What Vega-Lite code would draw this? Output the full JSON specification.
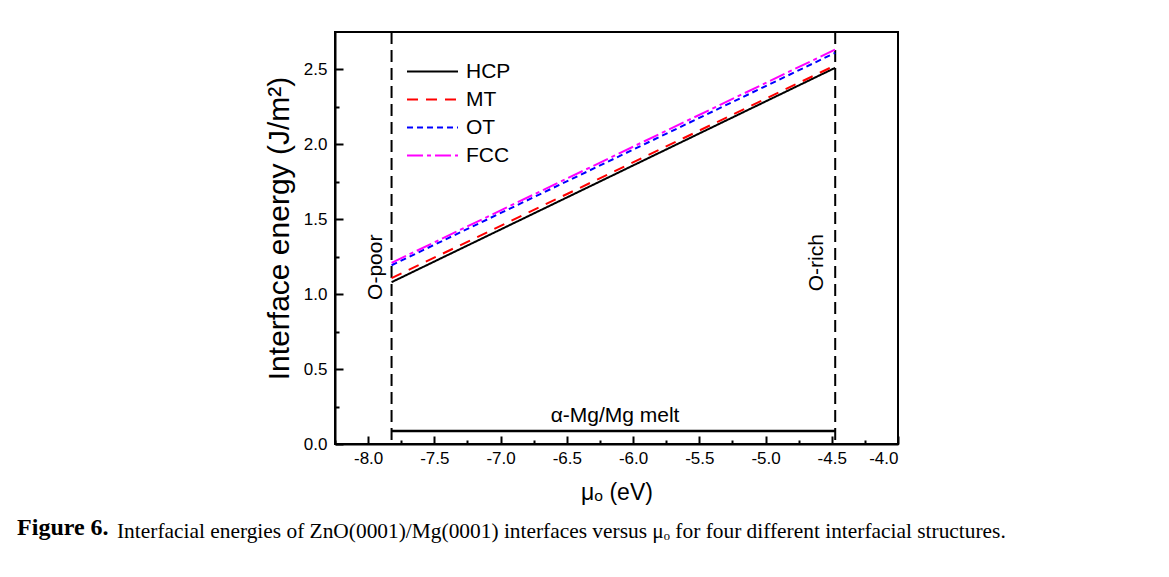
{
  "$schema": "https://vega.github.io/schema/vega-lite/v6.json",
  "width": 563,
  "height": 412,
  "autosize": {"type": "none"},
  "padding": {"left": 335, "top": 32, "right": 271, "bottom": 133},
  "background": "white",
  "title": {
    "text": "Interfacial energies of ZnO(0001)/Mg(0001) interfaces versus μₒ for four different interfacial structures.",
    "orient": "bottom",
    "anchor": "start",
    "frame": "group",
    "dx": -218,
    "offset": -19,
    "font": "Liberation Serif",
    "fontSize": 21.4,
    "fontWeight": "normal",
    "color": "black"
  },
  "config": {
    "font": "Liberation Sans",
    "view": {"stroke": "black", "strokeWidth": 2},
    "axis": {
      "labelFont": "Liberation Sans",
      "titleFont": "Liberation Sans",
      "labelFontSize": 17,
      "titleFontSize": 23,
      "titleFontWeight": "normal",
      "labelColor": "black",
      "titleColor": "black",
      "domainColor": "black",
      "domainWidth": 2,
      "tickColor": "black",
      "tickWidth": 2,
      "grid": false
    }
  },
  "datasets": {
    "series": [
      {"s": "HCP", "x": -7.823, "y": 1.08},
      {"s": "HCP", "x": -4.474, "y": 2.511},
      {"s": "MT", "x": -7.823, "y": 1.107},
      {"s": "MT", "x": -4.474, "y": 2.527},
      {"s": "OT", "x": -7.823, "y": 1.193},
      {"s": "OT", "x": -4.474, "y": 2.611},
      {"s": "FCC", "x": -7.823, "y": 1.209},
      {"s": "FCC", "x": -4.474, "y": 2.633}
    ],
    "bounds": [{"v": -7.823}, {"v": -4.474}],
    "melt": [{"x": -7.823, "y": 0.087}, {"x": -4.474, "y": 0.087}],
    "vlabels": [
      {"label": "O-poor", "x": -7.94, "y": 1.18},
      {"label": "O-rich", "x": -4.61, "y": 1.21}
    ],
    "hlabels": [{"label": "α-Mg/Mg melt", "x": -6.136, "y": 0.19}],
    "fig": [{"label": "Figure 6.", "x": -10.65, "y": -0.56}]
  },
  "resolve": {"axis": {"x": "independent", "y": "independent"}},
  "layer": [
    {
      "data": {"name": "melt"},
      "mark": {"type": "line", "color": "black", "strokeWidth": 2.5},
      "encoding": {
        "x": {
          "field": "x", "type": "quantitative",
          "scale": {"domain": [-8.25, -4.0], "nice": false, "zero": false},
          "axis": {"orient": "bottom", "values": [-8.25, -7.75, -7.25, -6.75, -6.25, -5.75, -5.25, -4.75, -4.25], "labels": false, "domain": false, "tickSize": -4, "title": null}
        },
        "y": {
          "field": "y", "type": "quantitative",
          "scale": {"domain": [0, 2.75], "nice": false, "zero": false},
          "axis": {"orient": "left", "values": [0.25, 0.75, 1.25, 1.75, 2.25], "labels": false, "domain": false, "tickSize": -4, "title": null}
        }
      }
    },
    {
      "data": {"name": "bounds"},
      "mark": {"type": "rule", "color": "black", "strokeWidth": 2, "strokeDash": [12, 6]},
      "encoding": {
        "x": {"field": "v", "type": "quantitative", "axis": null}
      }
    },
    {
      "data": {"name": "series"},
      "mark": {"type": "line", "strokeWidth": 2},
      "encoding": {
        "x": {
          "field": "x", "type": "quantitative",
          "axis": {"orient": "bottom", "values": [-8, -7.5, -7, -6.5, -6, -5.5, -5, -4.5, -4], "format": ".1f", "labelExpr": "replace(datum.label, '−', '-')", "tickSize": -8, "labelPadding": 14, "title": "μₒ (eV)", "titlePadding": 15}
        },
        "y": {
          "field": "y", "type": "quantitative",
          "axis": {"orient": "left", "values": [0, 0.5, 1, 1.5, 2, 2.5], "format": ".1f", "tickSize": -8, "labelPadding": 16, "title": "Interface energy (J/m²)", "titleFontSize": 30, "titlePadding": 9, "titleY": 196}
        },
        "color": {
          "field": "s", "type": "nominal",
          "scale": {"domain": ["HCP", "MT", "OT", "FCC"], "range": ["#000000", "#ff0000", "#0000ff", "#ff00ff"]},
          "legend": {
            "title": null,
            "orient": "none",
            "legendX": 87,
            "legendY": 29,
            "symbolType": "M-5,0H5",
            "symbolSize": 104,
            "symbolStrokeWidth": 2,
            "labelFontSize": 21,
            "labelFont": "Liberation Sans",
            "labelColor": "black",
            "labelOffset": 23,
            "rowPadding": 6,
            "padding": 0
          }
        },
        "strokeDash": {
          "field": "s", "type": "nominal",
          "scale": {"domain": ["HCP", "MT", "OT", "FCC"], "range": [[1, 0], [11, 8], [6, 4], [16, 4, 4, 4]]},
          "legend": {
            "title": null,
            "orient": "none",
            "legendX": 87,
            "legendY": 29,
            "symbolType": "M-5,0H5",
            "symbolSize": 104,
            "symbolStrokeWidth": 2,
            "labelFontSize": 21,
            "labelFont": "Liberation Sans",
            "labelColor": "black",
            "labelOffset": 23,
            "rowPadding": 6,
            "padding": 0
          }
        }
      }
    },
    {
      "data": {"name": "vlabels"},
      "mark": {"type": "text", "angle": 270, "fontSize": 21, "font": "Liberation Sans", "color": "black", "align": "center", "baseline": "middle"},
      "encoding": {
        "x": {"field": "x", "type": "quantitative", "axis": null},
        "y": {"field": "y", "type": "quantitative", "axis": null},
        "text": {"field": "label"}
      }
    },
    {
      "data": {"name": "hlabels"},
      "mark": {"type": "text", "fontSize": 21, "font": "Liberation Sans", "color": "black", "align": "center", "baseline": "middle"},
      "encoding": {
        "x": {"field": "x", "type": "quantitative", "axis": null},
        "y": {"field": "y", "type": "quantitative", "axis": null},
        "text": {"field": "label"}
      }
    },
    {
      "data": {"name": "fig"},
      "mark": {"type": "text", "fontSize": 24, "font": "Liberation Serif", "fontWeight": "bold", "color": "black", "align": "left", "baseline": "middle", "clip": false},
      "encoding": {
        "x": {"field": "x", "type": "quantitative", "axis": null},
        "y": {"field": "y", "type": "quantitative", "axis": null},
        "text": {"field": "label"}
      }
    }
  ]
}
